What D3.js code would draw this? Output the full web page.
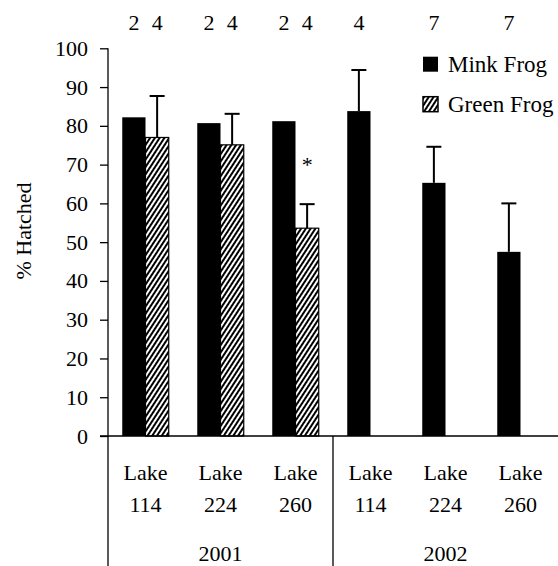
<!DOCTYPE html>
<html>
<head>
<meta charset="utf-8">
<script src="https://cdn.jsdelivr.net/npm/d3@7"></script>
<style>
  body { margin: 0; background: #fff; }
  svg text { font-family: "Liberation Serif", "DejaVu Serif", serif; fill: #000; }
</style>
</head>
<body>
<div id="chart"></div>
<script>
// dados
var lakes = ["Lake 114", "Lake 224", "Lake 260", "Lake 114", "Lake 224", "Lake 260"];
var years = ["2001", "2001", "2001", "2002", "2002", "2002"];
var series = ["Mink Frog", "Green Frog"];
var mink = [82.2, 80.7, 81.2, 83.8, 65.3, 47.5];
var minkErr = [null, null, null, 10.6, 9.3, 12.5];
var green = [77.0, 75.1, 53.6, null, null, null];
var greenErr = [10.7, 8.0, 6.2, null, null, null];
var nMink = [2, 2, 2, 4, 7, 7];
var nGreen = [4, 4, 4, null, null, null];
var signif = [null, null, "*", null, null, null]; // asterisco sobre a barra do green frog
var yTicks = [0, 10, 20, 30, 40, 50, 60, 70, 80, 90, 100];

const W = 558, H = 566;
const plotLeft = 108, plotRight = 558, plotTop = 48.3, plotBottom = 436;
const FONT = '"Liberation Serif", "DejaVu Serif", serif';

var svg = d3.select('#chart')
    .append('svg')
    .attr('width', W)
    .attr('height', H)
    .attr('font-family', FONT);

// padrão hachurado do green frog
var defs = svg.append('defs');
defs.append('pattern')
    .attr('id', 'hatch')
    .attr('patternUnits', 'userSpaceOnUse')
    .attr('width', 4)
    .attr('height', 10)
    .attr('patternTransform', 'rotate(33)')
    .append('rect')
    .attr('width', 2)
    .attr('height', 10)
    .attr('fill', '#000');

var idx = d3.range(lakes.length);

var x0 = d3.scaleBand()
    .domain(idx)
    .range([plotLeft, plotRight])
    .paddingInner(0.38)
    .paddingOuter(0.19);

var x1 = d3.scaleBand()
    .domain(series)
    .range([0, x0.bandwidth()]);

var y = d3.scaleLinear()
    .domain([0, 100])
    .range([plotBottom, plotTop]);

// eixo y
var yAxis = svg.append('g')
    .attr('transform', `translate(${plotLeft},0)`)
    .call(d3.axisLeft(y).tickValues(yTicks).tickSize(8).tickSizeOuter(0).tickPadding(12));
yAxis.select('.domain').remove();
yAxis.selectAll('line').attr('stroke', '#000').attr('stroke-width', 1.3);
yAxis.selectAll('text')
    .attr('font-size', 22)
    .attr('font-family', FONT)
    .attr('fill', '#000');

svg.append('line')
    .attr('x1', plotLeft).attr('x2', plotLeft)
    .attr('y1', y(100)).attr('y2', H)
    .attr('stroke', '#000').attr('stroke-width', 1.3);

// barras
var rows = idx.map(i => [
    { i: i, s: "Mink Frog", v: mink[i], e: minkErr[i], n: nMink[i] },
    { i: i, s: "Green Frog", v: green[i], e: greenErr[i], n: nGreen[i] }
]);
var flat = rows.flat();

svg.append('g')
    .selectAll('rect')
    .data(flat.filter(d => d.v != null))
    .join('rect')
    .attr('x', d => x0(d.i) + x1(d.s))
    .attr('y', d => y(d.v))
    .attr('width', x1.bandwidth())
    .attr('height', d => y(0) - y(d.v))
    .attr('fill', d => d.s == "Mink Frog" ? '#000' : 'url(#hatch)')
    .attr('stroke', '#000')
    .attr('stroke-width', d => d.s == "Mink Frog" ? 0 : 1.2);

// barras de erro (só para cima)
var eb = svg.append('g')
    .selectAll('g')
    .data(flat.filter(d => d.v != null && d.e != null))
    .join('g')
    .attr('stroke', '#000')
    .attr('stroke-width', 2);
eb.append('line')
    .attr('x1', d => x0(d.i) + x1(d.s) + x1.bandwidth() / 2)
    .attr('x2', d => x0(d.i) + x1(d.s) + x1.bandwidth() / 2)
    .attr('y1', d => y(d.v))
    .attr('y2', d => y(d.v + d.e));
eb.append('line')
    .attr('x1', d => x0(d.i) + x1(d.s) + x1.bandwidth() / 2 - 7.5)
    .attr('x2', d => x0(d.i) + x1(d.s) + x1.bandwidth() / 2 + 7.5)
    .attr('y1', d => y(d.v + d.e))
    .attr('y2', d => y(d.v + d.e));

// eixo x (linha do zero)
svg.append('line')
    .attr('x1', plotLeft - 8).attr('x2', plotRight)
    .attr('y1', y(0)).attr('y2', y(0))
    .attr('stroke', '#000').attr('stroke-width', 1.3);

// tamanhos de amostra no topo
svg.append('g')
    .selectAll('text')
    .data(flat.filter(d => d.n != null))
    .join('text')
    .attr('x', d => x0(d.i) + x1(d.s) + x1.bandwidth() / 2)
    .attr('y', 30)
    .attr('text-anchor', 'middle')
    .attr('font-size', 22)
    .text(d => d.n);

// asterisco
svg.append('g')
    .selectAll('text')
    .data(idx.filter(i => signif[i]))
    .join('text')
    .attr('x', i => x0(i) + x1("Green Frog") + x1.bandwidth() / 2)
    .attr('y', i => y(green[i] + greenErr[i]) - 32)
    .attr('text-anchor', 'middle')
    .attr('font-size', 22)
    .text(i => signif[i]);

// rótulos das categorias
var cat = svg.append('g')
    .selectAll('text')
    .data(idx)
    .join('text')
    .attr('x', i => x0(i) + x0.bandwidth() / 2)
    .attr('text-anchor', 'middle')
    .attr('font-size', 22);
cat.append('tspan').attr('x', i => x0(i) + x0.bandwidth() / 2).attr('y', 480).text(i => lakes[i].split(' ')[0]);
cat.append('tspan').attr('x', i => x0(i) + x0.bandwidth() / 2).attr('y', 512).text(i => lakes[i].split(' ')[1]);

// anos
var yearList = Array.from(new Set(years));
var step = x0.step();
yearList.forEach(function (yr) {
    var ii = idx.filter(i => years[i] == yr);
    var xa = plotLeft + ii[0] * step, xb = plotLeft + (ii[ii.length - 1] + 1) * step;
    svg.append('text')
        .attr('x', (xa + xb) / 2)
        .attr('y', 561)
        .attr('text-anchor', 'middle')
        .attr('font-size', 22)
        .text(yr);
    if (ii[0] > 0) {
        svg.append('line')
            .attr('x1', xa).attr('x2', xa)
            .attr('y1', y(0)).attr('y2', H)
            .attr('stroke', '#000').attr('stroke-width', 1.3);
    }
});

// legenda
var legend = svg.append('g')
    .selectAll('g')
    .data(series)
    .join('g')
    .attr('transform', (d, i) => `translate(423,${56.7 + i * 40})`);
legend.append('rect')
    .attr('width', 15)
    .attr('height', 15)
    .attr('fill', d => d == "Mink Frog" ? '#000' : 'url(#hatch)')
    .attr('stroke', '#000')
    .attr('stroke-width', d => d == "Mink Frog" ? 0 : 1.5);
legend.append('text')
    .attr('x', 25)
    .attr('y', 15)
    .attr('font-size', 23)
    .text(d => d);

// título do eixo y
svg.append('text')
    .attr('transform', 'translate(31,231) rotate(-90)')
    .attr('text-anchor', 'middle')
    .attr('font-size', 22)
    .text('% Hatched');
</script>
</body>
</html>
